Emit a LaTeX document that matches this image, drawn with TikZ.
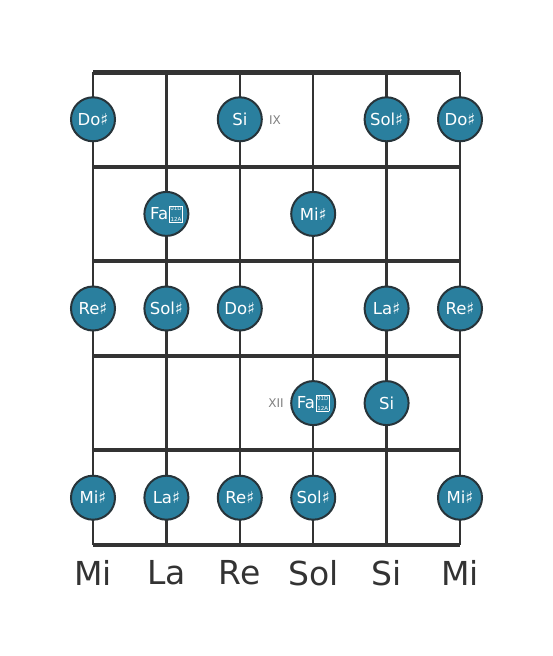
\documentclass[tikz,border=0pt]{standalone}
\usepackage{fontspec}
\setmainfont{DejaVu Sans}
\definecolor{fretgray}{HTML}{333333}
\definecolor{notefill}{HTML}{2A7F9E}
\definecolor{noteedge}{HTML}{27343A}
% double sharp, as the tofu box the reference prints
\newcommand{\dblsharp}{{\setlength{\fboxsep}{0.6pt}\setlength{\fboxrule}{0.5pt}%
	\kern1pt\raisebox{-1.5pt}{\fbox{\fontsize{5.5}{5.5}\selectfont\shortstack{01D\\[3pt]12A}}}}}
\begin{document}
\begin{tikzpicture}[x=1pt,y=-1pt,
	note/.style={circle,draw=noteedge,line width=2pt,fill=notefill,text=white,
		minimum size=44pt,inner sep=0pt,font=\fontsize{16.5}{16.5}\selectfont},
	fretnum/.style={text=gray,font=\fontsize{12}{12}\selectfont},
	strname/.style={text=fretgray,font=\fontsize{33}{33}\selectfont}]
	\useasboundingbox (0,0) rectangle (553,656);
	\def\gap{73.4}
	\def\fret{94.6}
		% strings
		\foreach \s in {0,...,5}
			\draw [fretgray,line width=2.5pt] (93+\s*\gap,72) -- (93+\s*\gap,545);
		% frets
		\foreach \f in {1,...,5}
			\draw [fretgray,line width=4pt] (93,72+\f*\fret) -- (460,72+\f*\fret);
		\draw [fretgray,line width=5pt] (93,72) -- (460,72);
		% fret numbers
		\node [fretnum] (ix) at (275,120) {IX};
		\node [fretnum] (xii) at (276,403) {XII};
		% notes
		\foreach \r/\s/\n in {1/0/Do♯,1/2/Si,1/4/Sol♯,1/5/Do♯,
				2/1/Fa\dblsharp,2/3/Mi♯,
				3/0/Re♯,3/1/Sol♯,3/2/Do♯,3/4/La♯,3/5/Re♯,
				4/3/Fa\dblsharp,4/4/Si,
				5/0/Mi♯,5/1/La♯,5/2/Re♯,5/3/Sol♯,5/5/Mi♯}
			\node [note] (n\r\s) at (93+\s*\gap,72-\fret/2+\r*\fret) {\n};
		% string names
		\foreach \s/\n in {0/Mi,1/La,2/Re,3/Sol,4/Si,5/Mi}
			\node [strname] (str\s) at (93+\s*\gap,573) {\n};
\end{tikzpicture}
\end{document}
